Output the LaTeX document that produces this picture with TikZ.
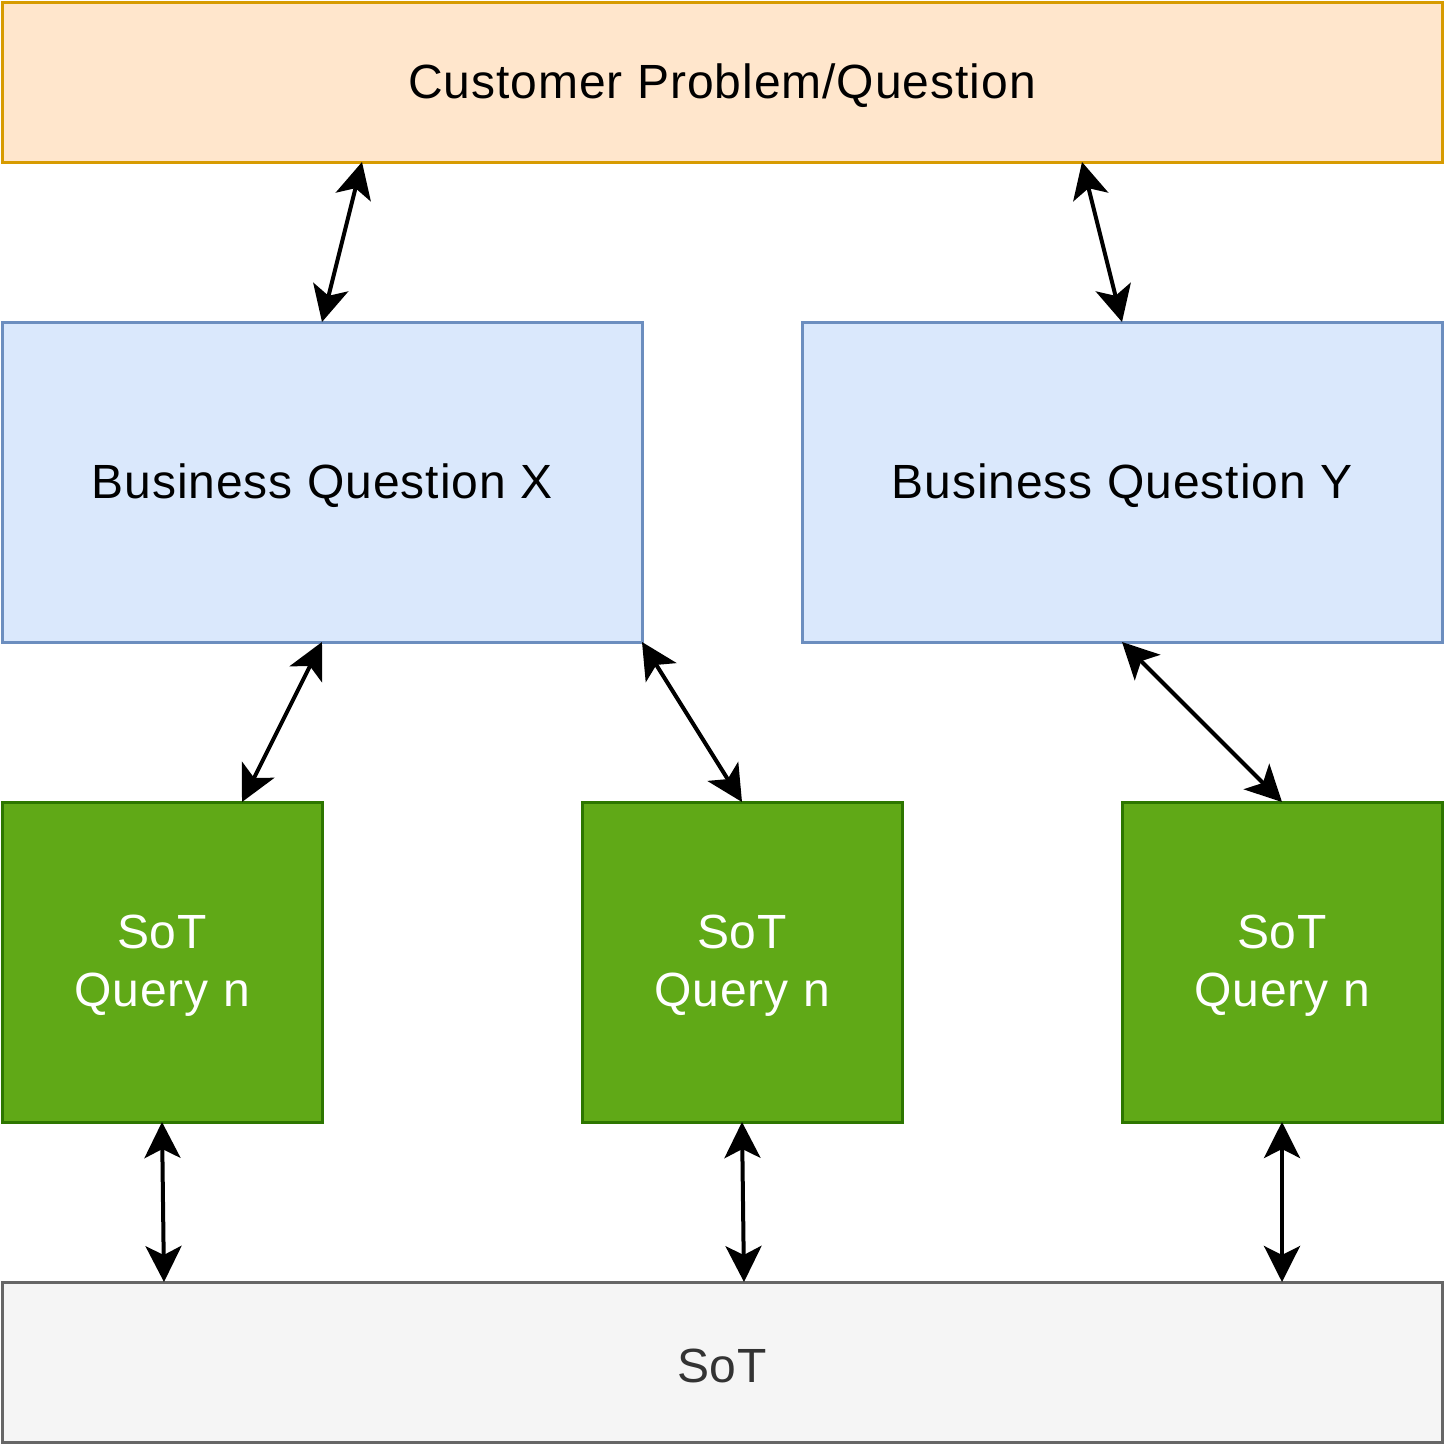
\documentclass[tikz,border=0pt]{standalone}
\usepackage{fontspec}
\setmainfont[LetterSpace=2]{Liberation Sans}
\usetikzlibrary{arrows.meta}
\definecolor{peachF}{HTML}{FFE6CC}
\definecolor{peachD}{HTML}{D79B00}
\definecolor{blueF}{HTML}{DAE8FC}
\definecolor{blueD}{HTML}{6C8EBF}
\definecolor{greenF}{HTML}{60A917}
\definecolor{greenD}{HTML}{2D7600}
\definecolor{grayF}{HTML}{F5F5F5}
\definecolor{grayD}{HTML}{666666}
\definecolor{grayT}{HTML}{333333}
\tikzset{
  box/.style={rectangle, inner sep=0pt, outer sep=0pt, line width=3pt},
  txt/.style={label={[inner sep=0pt, align=center, yshift=-4pt,
    font=\fontsize{48pt}{58pt}\selectfont, #1]center:}},
  wide/.style={box, minimum width=1440pt, minimum height=160pt},
  bq/.style={box, fill=blueF, draw=blueD, minimum width=640pt, minimum height=320pt},
  qry/.style={box, fill=greenF, draw=greenD, minimum width=320pt, minimum height=320pt},
  tip/.style={Stealth[length=36pt,width=36pt,inset=9pt]},
  link/.style={line width=4pt, {Stealth[length=36pt,width=36pt,inset=9pt]}-{Stealth[length=36pt,width=36pt,inset=9pt]}}
}
\begin{document}
\begin{tikzpicture}[x=1pt,y=-1pt]
\useasboundingbox (0,0) rectangle (1444,1444);
\node[wide, fill=peachF, draw=peachD, label={[inner sep=0pt, yshift=-4pt, font=\fontsize{48pt}{58pt}\selectfont]center:Customer Problem/Question}] (cp) at (722,82) {};
\node[bq, label={[inner sep=0pt, yshift=-4pt, font=\fontsize{48pt}{58pt}\selectfont]center:Business Question X}] (bqx) at (322,482) {};
\node[bq, label={[inner sep=0pt, yshift=-4pt, font=\fontsize{48pt}{58pt}\selectfont]center:Business Question Y}] (bqy) at (1122,482) {};
\node[qry, label={[inner sep=0pt, yshift=-4pt, align=center, text=white, font=\fontsize{48pt}{58pt}\selectfont]center:SoT\\Query n}] (q1) at (162,962) {};
\node[qry, label={[inner sep=0pt, yshift=-4pt, align=center, text=white, font=\fontsize{48pt}{58pt}\selectfont]center:SoT\\Query n}] (q2) at (742,962) {};
\node[qry, label={[inner sep=0pt, yshift=-4pt, align=center, text=white, font=\fontsize{48pt}{58pt}\selectfont]center:SoT\\Query n}] (q3) at (1282,962) {};
\node[wide, fill=grayF, draw=grayD, label={[inner sep=0pt, yshift=-4pt, text=grayT, font=\fontsize{48pt}{58pt}\selectfont]center:SoT}] (sot) at (722,1362) {};
\draw[link] ([xshift=360pt]cp.south west) -- (bqx.north);
\draw[link] ([xshift=1080pt]cp.south west) -- (bqy.north);
\draw[link] (bqx.south) -- ([xshift=240pt]q1.north west);
\draw[link] (bqx.south east) -- ([xshift=160pt]q2.north west);
\draw[link] (bqy.south) -- (q3.north);
\draw[link] (q1.south) -- ([xshift=162pt]sot.north west);
\draw[link] (q2.south) -- ([xshift=742pt]sot.north west);
\draw[link] (q3.south) -- ([xshift=1280pt]sot.north west);
\end{tikzpicture}
\end{document}
